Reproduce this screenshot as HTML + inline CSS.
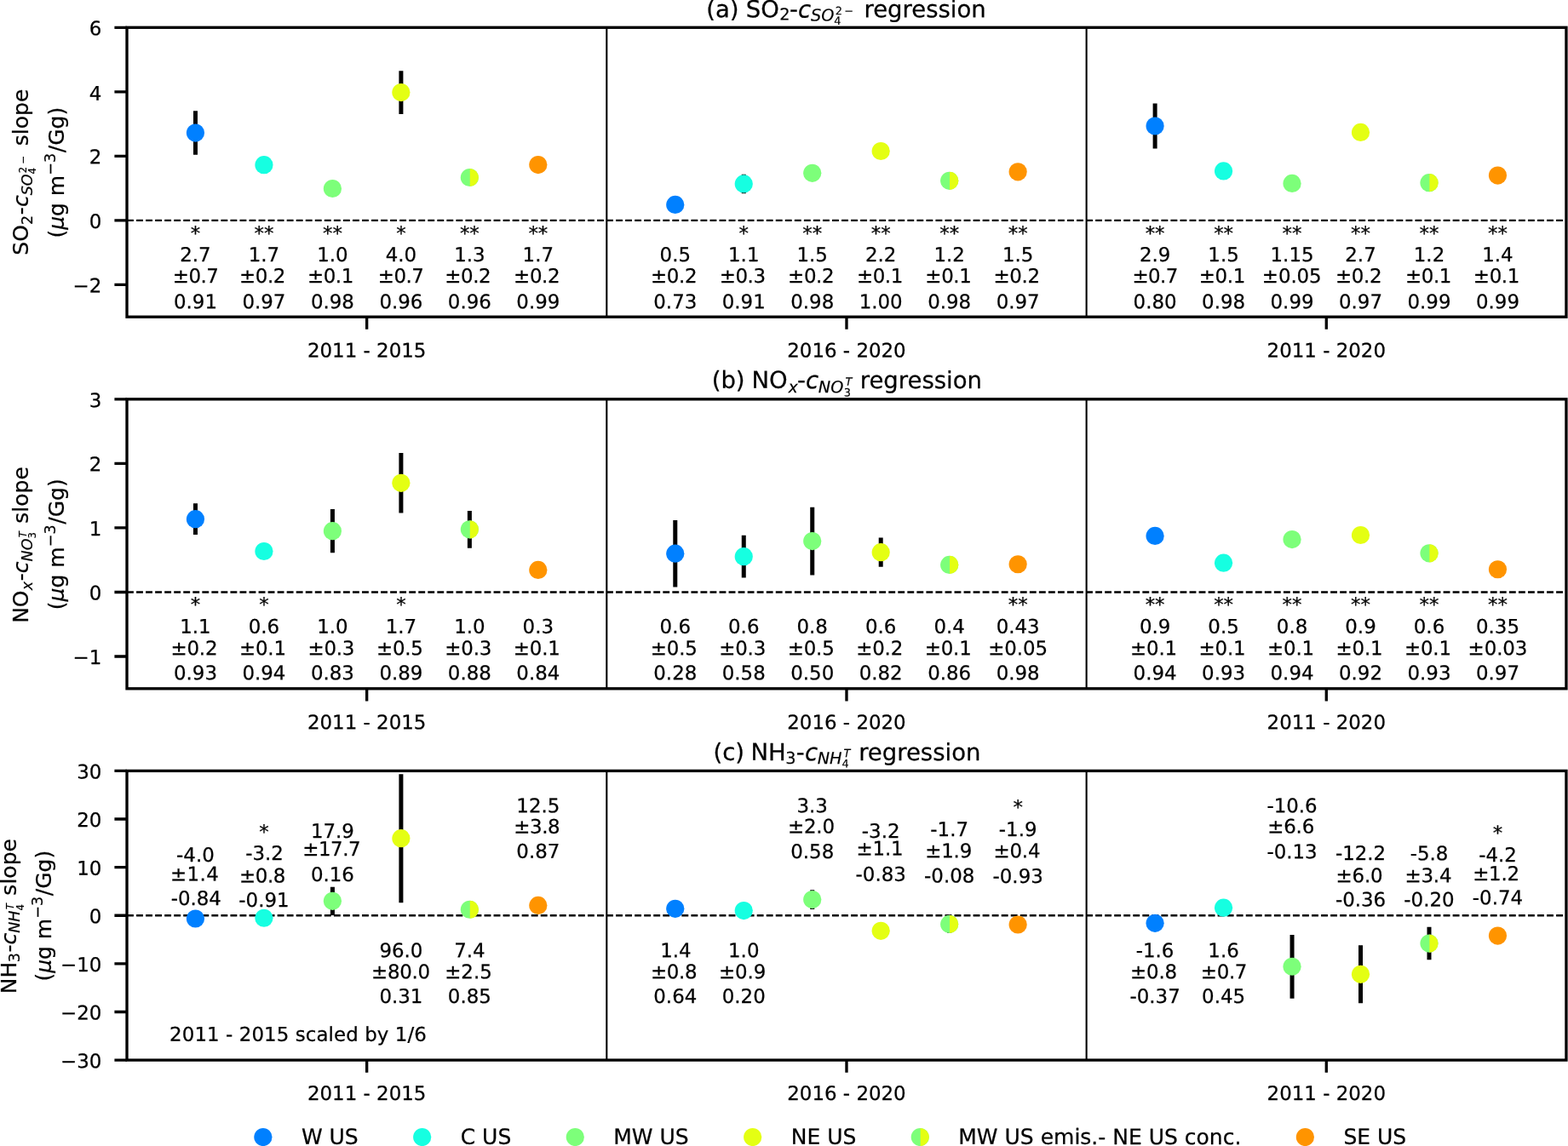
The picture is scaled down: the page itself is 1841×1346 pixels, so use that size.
<!DOCTYPE html>
<html lang="en">
<head>
<meta charset="utf-8">
<title>Emission-concentration regression slopes by region</title>
<style>
html,body{margin:0;padding:0;background:#fff;width:1841px;height:1346px}
svg{display:block}
svg text{font-family:"DejaVu Sans", "Liberation Sans", sans-serif;font-size:22.92px;fill:#000;stroke:#000;stroke-width:0.25px;stroke-linejoin:round;text-anchor:middle;white-space:pre}
svg .e text{text-anchor:end}
svg .lg text{text-anchor:start;font-size:25px}
</style>
</head>
<body>
<svg width="1841" height="1346" viewBox="0 0 1841 1346" role="img" aria-label="Regression slopes for SO2, NOx and NH3 by US region and period">
<rect width="1841" height="1346" fill="#fff"/>
<clipPath id="ca"><rect x="149" y="32.3" width="1689.95" height="339.9"/></clipPath><clipPath id="cb"><rect x="149" y="468.85" width="1689.95" height="339.95"/></clipPath><clipPath id="cc"><rect x="149" y="905.4" width="1689.95" height="339.7"/></clipPath>
<g>
<g clip-path="url(#ca)">
<path d="M149 258.9H1838.95" stroke="#000" stroke-width="2.3" stroke-dasharray="7.9 3.14" fill="none"/>
<path d="M712.32 32.3V372.2" stroke="#000" stroke-width="2.08" fill="none"/>
<path d="M1275.63 32.3V372.2" stroke="#000" stroke-width="2.08" fill="none"/>
<path d="M229.47 130.27V181.86M470.9 83.28V133.89M873.26 204.63V227.29M1356.11 121.54V174.42" stroke="#000" stroke-width="5" fill="none"/>
<circle cx="229.47" cy="156.06" r="10.6" fill="#0080ff"/>
<circle cx="309.95" cy="193.71" r="10.6" fill="#16ffe1"/>
<circle cx="390.42" cy="221.51" r="10.6" fill="#7dff7a"/>
<circle cx="470.9" cy="108.59" r="10.6" fill="#e4ff13"/>
<circle cx="551.37" cy="208.52" r="10.6" fill="#7dff7a"/>
<path d="M551.77 197.93A10.6 10.6 0 0 1 551.77 219.11Z" fill="#e4ff13"/>
<circle cx="631.84" cy="193.56" r="10.6" fill="#ff9400"/>
<circle cx="792.79" cy="240.47" r="10.6" fill="#0080ff"/>
<circle cx="873.26" cy="215.96" r="10.6" fill="#16ffe1"/>
<circle cx="953.74" cy="203.31" r="10.6" fill="#7dff7a"/>
<circle cx="1034.21" cy="177.51" r="10.6" fill="#e4ff13"/>
<circle cx="1114.69" cy="212.3" r="10.6" fill="#7dff7a"/>
<path d="M1115.09 201.7A10.6 10.6 0 0 1 1115.09 222.89Z" fill="#e4ff13"/>
<circle cx="1195.16" cy="201.87" r="10.6" fill="#ff9400"/>
<circle cx="1356.11" cy="147.98" r="10.6" fill="#0080ff"/>
<circle cx="1436.58" cy="200.89" r="10.6" fill="#16ffe1"/>
<circle cx="1517.05" cy="215.39" r="10.6" fill="#7dff7a"/>
<circle cx="1597.53" cy="155.42" r="10.6" fill="#e4ff13"/>
<circle cx="1678" cy="214.71" r="10.6" fill="#7dff7a"/>
<path d="M1678.4 204.12A10.6 10.6 0 0 1 1678.4 225.31Z" fill="#e4ff13"/>
<circle cx="1758.48" cy="206.03" r="10.6" fill="#ff9400"/>
</g>
<rect x="149" y="32.3" width="1689.95" height="339.9" fill="none" stroke="#000" stroke-width="3.33" stroke-linejoin="miter"/>
<path d="M149 32.3H134.42M149 107.83H134.42M149 183.37H134.42M149 258.9H134.42M149 334.43H134.42M430.66 372.2V386.78M993.98 372.2V386.78M1557.29 372.2V386.78" stroke="#000" stroke-width="3.33" fill="none"/>
<g class="e">
<text x="119.3" y="41.3" transform="rotate(0.03 119.3 41.3)">6</text>
<text x="119.3" y="117.73" transform="rotate(0.03 119.3 117.73)">4</text>
<text x="119.3" y="192.37" transform="rotate(0.03 119.3 192.37)">2</text>
<text x="119.3" y="267.9" transform="rotate(0.03 119.3 267.9)">0</text>
<text x="119.3" y="343.43" transform="rotate(0.03 119.3 343.43)">−2</text>
</g>
<text x="430.66" y="419.6" transform="rotate(0.03 430.66 419.6)">2011 - 2015</text>
<text x="993.98" y="419.6" transform="rotate(0.03 993.98 419.6)">2016 - 2020</text>
<text x="1557.29" y="419.6" transform="rotate(0.03 1557.29 419.6)">2011 - 2020</text>
<text x="229.47" y="282.1" transform="rotate(0.03 229.47 282.1)">*</text>
<text x="229.47" y="307" transform="rotate(0.03 229.47 307)">2.7</text>
<text x="229.77" y="332.1" transform="rotate(0.03 229.77 332.1)" textLength="54.05">±0.7</text>
<text x="229.47" y="362.2" transform="rotate(0.03 229.47 362.2)">0.91</text>
<text x="309.95" y="282.1" transform="rotate(0.03 309.95 282.1)">**</text>
<text x="309.95" y="307" transform="rotate(0.03 309.95 307)">1.7</text>
<text x="308.15" y="332.1" transform="rotate(0.03 308.15 332.1)" textLength="54.45">±0.2</text>
<text x="309.95" y="362.2" transform="rotate(0.03 309.95 362.2)">0.97</text>
<text x="390.42" y="282.1" transform="rotate(0.03 390.42 282.1)">**</text>
<text x="390.42" y="307" transform="rotate(0.03 390.42 307)">1.0</text>
<text x="388.12" y="332.1" transform="rotate(0.03 388.12 332.1)" textLength="54.45">±0.1</text>
<text x="390.42" y="362.2" transform="rotate(0.03 390.42 362.2)">0.98</text>
<text x="470.9" y="282.1" transform="rotate(0.03 470.9 282.1)">*</text>
<text x="470.9" y="307" transform="rotate(0.03 470.9 307)">4.0</text>
<text x="470.8" y="332.1" transform="rotate(0.03 470.8 332.1)" textLength="54.05">±0.7</text>
<text x="470.9" y="362.2" transform="rotate(0.03 470.9 362.2)">0.96</text>
<text x="551.37" y="282.1" transform="rotate(0.03 551.37 282.1)">**</text>
<text x="551.37" y="307" transform="rotate(0.03 551.37 307)">1.3</text>
<text x="549.37" y="332.1" transform="rotate(0.03 549.37 332.1)" textLength="54.45">±0.2</text>
<text x="551.37" y="362.2" transform="rotate(0.03 551.37 362.2)">0.96</text>
<text x="631.84" y="282.1" transform="rotate(0.03 631.84 282.1)">**</text>
<text x="631.84" y="307" transform="rotate(0.03 631.84 307)">1.7</text>
<text x="630.34" y="332.1" transform="rotate(0.03 630.34 332.1)" textLength="54.45">±0.2</text>
<text x="631.84" y="362.2" transform="rotate(0.03 631.84 362.2)">0.99</text>
<text x="792.79" y="307" transform="rotate(0.03 792.79 307)">0.5</text>
<text x="791.29" y="332.1" transform="rotate(0.03 791.29 332.1)" textLength="54.45">±0.2</text>
<text x="792.79" y="362.2" transform="rotate(0.03 792.79 362.2)">0.73</text>
<text x="873.26" y="282.1" transform="rotate(0.03 873.26 282.1)">*</text>
<text x="873.26" y="307" transform="rotate(0.03 873.26 307)">1.1</text>
<text x="871.86" y="332.1" transform="rotate(0.03 871.86 332.1)" textLength="54.45">±0.3</text>
<text x="873.26" y="362.2" transform="rotate(0.03 873.26 362.2)">0.91</text>
<text x="953.74" y="282.1" transform="rotate(0.03 953.74 282.1)">**</text>
<text x="953.74" y="307" transform="rotate(0.03 953.74 307)">1.5</text>
<text x="952.34" y="332.1" transform="rotate(0.03 952.34 332.1)" textLength="54.45">±0.2</text>
<text x="953.74" y="362.2" transform="rotate(0.03 953.74 362.2)">0.98</text>
<text x="1034.21" y="282.1" transform="rotate(0.03 1034.21 282.1)">**</text>
<text x="1034.21" y="307" transform="rotate(0.03 1034.21 307)">2.2</text>
<text x="1033.11" y="332.1" transform="rotate(0.03 1033.11 332.1)" textLength="54.45">±0.1</text>
<text x="1034.21" y="362.2" transform="rotate(0.03 1034.21 362.2)">1.00</text>
<text x="1114.69" y="282.1" transform="rotate(0.03 1114.69 282.1)">**</text>
<text x="1114.69" y="307" transform="rotate(0.03 1114.69 307)">1.2</text>
<text x="1113.59" y="332.1" transform="rotate(0.03 1113.59 332.1)" textLength="54.45">±0.1</text>
<text x="1114.69" y="362.2" transform="rotate(0.03 1114.69 362.2)">0.98</text>
<text x="1195.16" y="282.1" transform="rotate(0.03 1195.16 282.1)">**</text>
<text x="1195.16" y="307" transform="rotate(0.03 1195.16 307)">1.5</text>
<text x="1193.76" y="332.1" transform="rotate(0.03 1193.76 332.1)" textLength="54.45">±0.2</text>
<text x="1195.16" y="362.2" transform="rotate(0.03 1195.16 362.2)">0.97</text>
<text x="1356.11" y="282.1" transform="rotate(0.03 1356.11 282.1)">**</text>
<text x="1356.11" y="307" transform="rotate(0.03 1356.11 307)">2.9</text>
<text x="1356.41" y="332.1" transform="rotate(0.03 1356.41 332.1)" textLength="54.05">±0.7</text>
<text x="1356.11" y="362.2" transform="rotate(0.03 1356.11 362.2)">0.80</text>
<text x="1436.58" y="282.1" transform="rotate(0.03 1436.58 282.1)">**</text>
<text x="1436.58" y="307" transform="rotate(0.03 1436.58 307)">1.5</text>
<text x="1434.98" y="332.1" transform="rotate(0.03 1434.98 332.1)" textLength="54.45">±0.1</text>
<text x="1436.58" y="362.2" transform="rotate(0.03 1436.58 362.2)">0.98</text>
<text x="1517.05" y="282.1" transform="rotate(0.03 1517.05 282.1)">**</text>
<text x="1517.05" y="307" transform="rotate(0.03 1517.05 307)">1.15</text>
<text x="1516.75" y="332.1" transform="rotate(0.03 1516.75 332.1)" textLength="69.83">±0.05</text>
<text x="1517.05" y="362.2" transform="rotate(0.03 1517.05 362.2)">0.99</text>
<text x="1597.53" y="282.1" transform="rotate(0.03 1597.53 282.1)">**</text>
<text x="1597.53" y="307" transform="rotate(0.03 1597.53 307)">2.7</text>
<text x="1595.23" y="332.1" transform="rotate(0.03 1595.23 332.1)" textLength="54.45">±0.2</text>
<text x="1597.53" y="362.2" transform="rotate(0.03 1597.53 362.2)">0.97</text>
<text x="1678" y="282.1" transform="rotate(0.03 1678 282.1)">**</text>
<text x="1678" y="307" transform="rotate(0.03 1678 307)">1.2</text>
<text x="1677.2" y="332.1" transform="rotate(0.03 1677.2 332.1)" textLength="54.45">±0.1</text>
<text x="1678" y="362.2" transform="rotate(0.03 1678 362.2)">0.99</text>
<text x="1758.48" y="282.1" transform="rotate(0.03 1758.48 282.1)">**</text>
<text x="1758.48" y="307" transform="rotate(0.03 1758.48 307)">1.4</text>
<text x="1757.08" y="332.1" transform="rotate(0.03 1757.08 332.1)" textLength="54.45">±0.1</text>
<text x="1758.48" y="362.2" transform="rotate(0.03 1758.48 362.2)">0.99</text>
<text transform="rotate(0.03 827.53 20.2)" style="text-anchor:start;font-size:27.5px"><tspan x="829.23" y="20.2">(a)</tspan><tspan x="875.78" y="20.2">SO</tspan><tspan x="915.15" y="23.49" style="font-size:19.25px;stroke-width:0.2px;">2</tspan><tspan x="926.96" y="20.2">-</tspan><tspan x="937.09" y="20.5" style="font-style:oblique;">c</tspan><tspan x="952.01" y="24.39" style="font-size:19.25px;stroke-width:0.2px;font-style:oblique;">SO</tspan><tspan x="979.38" y="28.8" style="font-size:12.92px;stroke-width:0.15px;">4</tspan><tspan x="980.79" y="17.09" style="font-size:12.92px;stroke-width:0.15px;">2</tspan><tspan x="991.26" y="17.09" style="font-size:12.92px;stroke-width:0.15px;">−</tspan><tspan x="1014.45" y="20.2">regression</tspan></text>
<text transform="translate(33.4 202.25) rotate(-90)" style="text-anchor:start;font-size:25px"><tspan x="-97.49" y="0">SO</tspan><tspan x="-61.7" y="4.17" style="font-size:17.5px;stroke-width:0.2px;">2</tspan><tspan x="-49.88" y="0">-</tspan><tspan x="-40.85" y="0" style="font-style:oblique;">c</tspan><tspan x="-27.1" y="4.17" style="font-size:17.5px;stroke-width:0.2px;font-style:oblique;">SO</tspan><tspan x="-2.22" y="9.05" style="font-size:11.75px;stroke-width:0.15px;">4</tspan><tspan x="-0.94" y="-2.65" style="font-size:11.75px;stroke-width:0.15px;">2</tspan><tspan x="9.7" y="-2.65" style="font-size:11.75px;stroke-width:0.15px;">−</tspan><tspan x="31.02" y="0">slope</tspan></text><text transform="translate(75 202.25) rotate(-90)" style="text-anchor:start;font-size:25px"><tspan x="-77.35" y="0">(</tspan><tspan x="-67.62" y="0" style="font-style:oblique;">μ</tspan><tspan x="-51.74" y="0">g m</tspan><tspan x="-3.42" y="-9.61" style="font-size:17.5px;stroke-width:0.2px;">−</tspan><tspan x="11.22" y="-9.61" style="font-size:17.5px;stroke-width:0.2px;">3</tspan><tspan x="23.02" y="0">/Gg)</tspan></text>
</g>
<g>
<g clip-path="url(#cb)">
<path d="M149 695.48H1838.95" stroke="#000" stroke-width="2.3" stroke-dasharray="7.9 3.14" fill="none"/>
<path d="M712.32 468.85V808.8" stroke="#000" stroke-width="2.08" fill="none"/>
<path d="M1275.63 468.85V808.8" stroke="#000" stroke-width="2.08" fill="none"/>
<path d="M229.47 591.31V628.02M390.42 597.96V649.33M470.9 532.08V602.49M551.37 599.92V643.74M792.79 610.9V689.46M873.26 628.7V678.56M953.74 595.69V675.46M1034.21 631.57V665.72" stroke="#000" stroke-width="5" fill="none"/>
<circle cx="229.47" cy="609.66" r="10.6" fill="#0080ff"/>
<circle cx="309.95" cy="647.51" r="10.6" fill="#16ffe1"/>
<circle cx="390.42" cy="623.64" r="10.6" fill="#7dff7a"/>
<circle cx="470.9" cy="567.28" r="10.6" fill="#e4ff13"/>
<circle cx="551.37" cy="621.83" r="10.6" fill="#7dff7a"/>
<path d="M551.77 611.24A10.6 10.6 0 0 1 551.77 632.42Z" fill="#e4ff13"/>
<circle cx="631.84" cy="669.42" r="10.6" fill="#ff9400"/>
<circle cx="792.79" cy="650.18" r="10.6" fill="#0080ff"/>
<circle cx="873.26" cy="653.63" r="10.6" fill="#16ffe1"/>
<circle cx="953.74" cy="635.58" r="10.6" fill="#7dff7a"/>
<circle cx="1034.21" cy="648.65" r="10.6" fill="#e4ff13"/>
<circle cx="1114.69" cy="663.38" r="10.6" fill="#7dff7a"/>
<path d="M1115.09 652.78A10.6 10.6 0 0 1 1115.09 673.97Z" fill="#e4ff13"/>
<circle cx="1195.16" cy="662.73" r="10.6" fill="#ff9400"/>
<circle cx="1356.11" cy="629.46" r="10.6" fill="#0080ff"/>
<circle cx="1436.58" cy="661.19" r="10.6" fill="#16ffe1"/>
<circle cx="1517.05" cy="633.54" r="10.6" fill="#7dff7a"/>
<circle cx="1597.53" cy="628.48" r="10.6" fill="#e4ff13"/>
<circle cx="1678" cy="649.85" r="10.6" fill="#7dff7a"/>
<path d="M1678.4 639.26A10.6 10.6 0 0 1 1678.4 660.45Z" fill="#e4ff13"/>
<circle cx="1758.48" cy="668.74" r="10.6" fill="#ff9400"/>
</g>
<rect x="149" y="468.85" width="1689.95" height="339.95" fill="none" stroke="#000" stroke-width="3.33" stroke-linejoin="miter"/>
<path d="M149 468.85H134.42M149 544.39H134.42M149 619.94H134.42M149 695.48H134.42M149 771.03H134.42M430.66 808.8V823.38M993.98 808.8V823.38M1557.29 808.8V823.38" stroke="#000" stroke-width="3.33" fill="none"/>
<g class="e">
<text x="119.3" y="478.35" transform="rotate(0.03 119.3 478.35)">3</text>
<text x="119.3" y="553.39" transform="rotate(0.03 119.3 553.39)">2</text>
<text x="119.3" y="628.94" transform="rotate(0.03 119.3 628.94)">1</text>
<text x="119.3" y="704.48" transform="rotate(0.03 119.3 704.48)">0</text>
<text x="119.3" y="780.03" transform="rotate(0.03 119.3 780.03)">−1</text>
</g>
<text x="430.66" y="856.2" transform="rotate(0.03 430.66 856.2)">2011 - 2015</text>
<text x="993.98" y="856.2" transform="rotate(0.03 993.98 856.2)">2016 - 2020</text>
<text x="1557.29" y="856.2" transform="rotate(0.03 1557.29 856.2)">2011 - 2020</text>
<text x="229.47" y="718.05" transform="rotate(0.03 229.47 718.05)">*</text>
<text x="229.47" y="743.85" transform="rotate(0.03 229.47 743.85)">1.1</text>
<text x="227.97" y="769.25" transform="rotate(0.03 227.97 769.25)" textLength="55.05">±0.2</text>
<text x="229.47" y="798.35" transform="rotate(0.03 229.47 798.35)">0.93</text>
<text x="309.95" y="718.05" transform="rotate(0.03 309.95 718.05)">*</text>
<text x="309.95" y="743.85" transform="rotate(0.03 309.95 743.85)">0.6</text>
<text x="308.45" y="769.25" transform="rotate(0.03 308.45 769.25)" textLength="55.05">±0.1</text>
<text x="309.95" y="798.35" transform="rotate(0.03 309.95 798.35)">0.94</text>
<text x="390.42" y="743.85" transform="rotate(0.03 390.42 743.85)">1.0</text>
<text x="388.92" y="769.25" transform="rotate(0.03 388.92 769.25)" textLength="55.05">±0.3</text>
<text x="390.42" y="798.35" transform="rotate(0.03 390.42 798.35)">0.83</text>
<text x="470.9" y="718.05" transform="rotate(0.03 470.9 718.05)">*</text>
<text x="470.9" y="743.85" transform="rotate(0.03 470.9 743.85)">1.7</text>
<text x="469.4" y="769.25" transform="rotate(0.03 469.4 769.25)" textLength="55.05">±0.5</text>
<text x="470.9" y="798.35" transform="rotate(0.03 470.9 798.35)">0.89</text>
<text x="551.37" y="743.85" transform="rotate(0.03 551.37 743.85)">1.0</text>
<text x="549.87" y="769.25" transform="rotate(0.03 549.87 769.25)" textLength="55.05">±0.3</text>
<text x="551.37" y="798.35" transform="rotate(0.03 551.37 798.35)">0.88</text>
<text x="631.84" y="743.85" transform="rotate(0.03 631.84 743.85)">0.3</text>
<text x="630.34" y="769.25" transform="rotate(0.03 630.34 769.25)" textLength="55.05">±0.1</text>
<text x="631.84" y="798.35" transform="rotate(0.03 631.84 798.35)">0.84</text>
<text x="792.79" y="743.85" transform="rotate(0.03 792.79 743.85)">0.6</text>
<text x="791.29" y="769.25" transform="rotate(0.03 791.29 769.25)" textLength="55.05">±0.5</text>
<text x="792.79" y="798.35" transform="rotate(0.03 792.79 798.35)">0.28</text>
<text x="873.26" y="743.85" transform="rotate(0.03 873.26 743.85)">0.6</text>
<text x="871.76" y="769.25" transform="rotate(0.03 871.76 769.25)" textLength="55.05">±0.3</text>
<text x="873.26" y="798.35" transform="rotate(0.03 873.26 798.35)">0.58</text>
<text x="953.74" y="743.85" transform="rotate(0.03 953.74 743.85)">0.8</text>
<text x="952.24" y="769.25" transform="rotate(0.03 952.24 769.25)" textLength="55.05">±0.5</text>
<text x="953.74" y="798.35" transform="rotate(0.03 953.74 798.35)">0.50</text>
<text x="1034.21" y="743.85" transform="rotate(0.03 1034.21 743.85)">0.6</text>
<text x="1032.71" y="769.25" transform="rotate(0.03 1032.71 769.25)" textLength="55.05">±0.2</text>
<text x="1034.21" y="798.35" transform="rotate(0.03 1034.21 798.35)">0.82</text>
<text x="1114.69" y="743.85" transform="rotate(0.03 1114.69 743.85)">0.4</text>
<text x="1113.19" y="769.25" transform="rotate(0.03 1113.19 769.25)" textLength="55.05">±0.1</text>
<text x="1114.69" y="798.35" transform="rotate(0.03 1114.69 798.35)">0.86</text>
<text x="1195.16" y="718.05" transform="rotate(0.03 1195.16 718.05)">**</text>
<text x="1195.16" y="743.85" transform="rotate(0.03 1195.16 743.85)">0.43</text>
<text x="1195.16" y="769.25" transform="rotate(0.03 1195.16 769.25)" textLength="69.83">±0.05</text>
<text x="1195.16" y="798.35" transform="rotate(0.03 1195.16 798.35)">0.98</text>
<text x="1356.11" y="718.05" transform="rotate(0.03 1356.11 718.05)">**</text>
<text x="1356.11" y="743.85" transform="rotate(0.03 1356.11 743.85)">0.9</text>
<text x="1354.61" y="769.25" transform="rotate(0.03 1354.61 769.25)" textLength="55.05">±0.1</text>
<text x="1356.11" y="798.35" transform="rotate(0.03 1356.11 798.35)">0.94</text>
<text x="1436.58" y="718.05" transform="rotate(0.03 1436.58 718.05)">**</text>
<text x="1436.58" y="743.85" transform="rotate(0.03 1436.58 743.85)">0.5</text>
<text x="1435.08" y="769.25" transform="rotate(0.03 1435.08 769.25)" textLength="55.05">±0.1</text>
<text x="1436.58" y="798.35" transform="rotate(0.03 1436.58 798.35)">0.93</text>
<text x="1517.05" y="718.05" transform="rotate(0.03 1517.05 718.05)">**</text>
<text x="1517.05" y="743.85" transform="rotate(0.03 1517.05 743.85)">0.8</text>
<text x="1515.55" y="769.25" transform="rotate(0.03 1515.55 769.25)" textLength="55.05">±0.1</text>
<text x="1517.05" y="798.35" transform="rotate(0.03 1517.05 798.35)">0.94</text>
<text x="1597.53" y="718.05" transform="rotate(0.03 1597.53 718.05)">**</text>
<text x="1597.53" y="743.85" transform="rotate(0.03 1597.53 743.85)">0.9</text>
<text x="1596.03" y="769.25" transform="rotate(0.03 1596.03 769.25)" textLength="55.05">±0.1</text>
<text x="1597.53" y="798.35" transform="rotate(0.03 1597.53 798.35)">0.92</text>
<text x="1678" y="718.05" transform="rotate(0.03 1678 718.05)">**</text>
<text x="1678" y="743.85" transform="rotate(0.03 1678 743.85)">0.6</text>
<text x="1676.5" y="769.25" transform="rotate(0.03 1676.5 769.25)" textLength="55.05">±0.1</text>
<text x="1678" y="798.35" transform="rotate(0.03 1678 798.35)">0.93</text>
<text x="1758.48" y="718.05" transform="rotate(0.03 1758.48 718.05)">**</text>
<text x="1758.48" y="743.85" transform="rotate(0.03 1758.48 743.85)">0.35</text>
<text x="1758.48" y="769.25" transform="rotate(0.03 1758.48 769.25)" textLength="69.83">±0.03</text>
<text x="1758.48" y="798.35" transform="rotate(0.03 1758.48 798.35)">0.97</text>
<text transform="rotate(0.03 833.48 455.8)" style="text-anchor:start;font-size:27.5px"><tspan x="835.68" y="455.8">(b)</tspan><tspan x="882.43" y="455.8">NO</tspan><tspan x="925.62" y="461.09" style="font-size:19.25px;stroke-width:0.2px;font-style:oblique;">x</tspan><tspan x="935.88" y="455.8">-</tspan><tspan x="946" y="456" style="font-style:oblique;">c</tspan><tspan x="960.82" y="461.09" style="font-size:19.25px;stroke-width:0.2px;font-style:oblique;">NO</tspan><tspan x="990.66" y="465.45" style="font-size:12.92px;stroke-width:0.15px;">3</tspan><tspan x="992.38" y="452.59" style="font-size:12.92px;stroke-width:0.15px;font-style:oblique;">T</tspan><tspan x="1009.76" y="455.8">regression</tspan></text>
<text transform="translate(33.4 638.8) rotate(-90)" style="text-anchor:start;font-size:25px"><tspan x="-93.06" y="0">NO</tspan><tspan x="-54.44" y="4.17" style="font-size:17.5px;stroke-width:0.2px;font-style:oblique;">x</tspan><tspan x="-43.39" y="0">-</tspan><tspan x="-34.37" y="0" style="font-style:oblique;">c</tspan><tspan x="-20.62" y="4.17" style="font-size:17.5px;stroke-width:0.2px;font-style:oblique;">NO</tspan><tspan x="6.24" y="9.05" style="font-size:11.75px;stroke-width:0.15px;">3</tspan><tspan x="7.52" y="-2.65" style="font-size:11.75px;stroke-width:0.15px;font-style:oblique;">T</tspan><tspan x="24.14" y="0">slope</tspan></text><text transform="translate(75 638.8) rotate(-90)" style="text-anchor:start;font-size:25px"><tspan x="-77.35" y="0">(</tspan><tspan x="-67.62" y="0" style="font-style:oblique;">μ</tspan><tspan x="-51.74" y="0">g m</tspan><tspan x="-3.42" y="-9.61" style="font-size:17.5px;stroke-width:0.2px;">−</tspan><tspan x="11.22" y="-9.61" style="font-size:17.5px;stroke-width:0.2px;">3</tspan><tspan x="23.02" y="0">/Gg)</tspan></text>
</g>
<g>
<g clip-path="url(#cc)">
<path d="M149 1075.25H1838.95" stroke="#000" stroke-width="2.3" stroke-dasharray="7.9 3.14" fill="none"/>
<path d="M712.32 905.4V1245.1" stroke="#000" stroke-width="2.08" fill="none"/>
<path d="M1275.63 905.4V1245.1" stroke="#000" stroke-width="2.08" fill="none"/>
<path d="M390.42 1041.66V1075.06M470.9 909.17V1060.15M953.74 1045.24V1067.89M1114.69 1075.25V1095.63M1517.05 1097.9V1172.63M1597.53 1110.35V1178.29M1678 1088.84V1127.34" stroke="#000" stroke-width="5" fill="none"/>
<circle cx="229.47" cy="1079.02" r="10.6" fill="#0080ff"/>
<circle cx="309.95" cy="1078.27" r="10.6" fill="#16ffe1"/>
<circle cx="390.42" cy="1058.36" r="10.6" fill="#7dff7a"/>
<circle cx="470.9" cy="984.66" r="10.6" fill="#e4ff13"/>
<circle cx="551.37" cy="1068.27" r="10.6" fill="#7dff7a"/>
<path d="M551.77 1057.67A10.6 10.6 0 0 1 551.77 1078.86Z" fill="#e4ff13"/>
<circle cx="631.84" cy="1063.45" r="10.6" fill="#ff9400"/>
<circle cx="792.79" cy="1067.32" r="10.6" fill="#0080ff"/>
<circle cx="873.26" cy="1069.59" r="10.6" fill="#16ffe1"/>
<circle cx="953.74" cy="1056.57" r="10.6" fill="#7dff7a"/>
<circle cx="1034.21" cy="1093.37" r="10.6" fill="#e4ff13"/>
<circle cx="1114.69" cy="1085.44" r="10.6" fill="#7dff7a"/>
<path d="M1115.09 1074.85A10.6 10.6 0 0 1 1115.09 1096.03Z" fill="#e4ff13"/>
<circle cx="1195.16" cy="1086.01" r="10.6" fill="#ff9400"/>
<circle cx="1356.11" cy="1084.31" r="10.6" fill="#0080ff"/>
<circle cx="1436.58" cy="1066.19" r="10.6" fill="#16ffe1"/>
<circle cx="1517.05" cy="1135.26" r="10.6" fill="#7dff7a"/>
<circle cx="1597.53" cy="1144.32" r="10.6" fill="#e4ff13"/>
<circle cx="1678" cy="1108.09" r="10.6" fill="#7dff7a"/>
<path d="M1678.4 1097.5A10.6 10.6 0 0 1 1678.4 1118.68Z" fill="#e4ff13"/>
<circle cx="1758.48" cy="1099.03" r="10.6" fill="#ff9400"/>
</g>
<rect x="149" y="905.4" width="1689.95" height="339.7" fill="none" stroke="#000" stroke-width="3.33" stroke-linejoin="miter"/>
<path d="M149 905.4H134.42M149 962.02H134.42M149 1018.63H134.42M149 1075.25H134.42M149 1131.87H134.42M149 1188.48H134.42M149 1245.1H134.42M430.66 1245.1V1259.68M993.98 1245.1V1259.68M1557.29 1245.1V1259.68" stroke="#000" stroke-width="3.33" fill="none"/>
<g class="e">
<text x="119.3" y="914.5" transform="rotate(0.03 119.3 914.5)">30</text>
<text x="119.3" y="971.12" transform="rotate(0.03 119.3 971.12)">20</text>
<text x="119.3" y="1027.73" transform="rotate(0.03 119.3 1027.73)">10</text>
<text x="119.3" y="1084.35" transform="rotate(0.03 119.3 1084.35)">0</text>
<text x="119.3" y="1140.97" transform="rotate(0.03 119.3 1140.97)">−10</text>
<text x="119.3" y="1197.58" transform="rotate(0.03 119.3 1197.58)">−20</text>
<text x="119.3" y="1254.2" transform="rotate(0.03 119.3 1254.2)">−30</text>
</g>
<text x="430.66" y="1292.1" transform="rotate(0.03 430.66 1292.1)">2011 - 2015</text>
<text x="993.98" y="1292.1" transform="rotate(0.03 993.98 1292.1)">2016 - 2020</text>
<text x="1557.29" y="1292.1" transform="rotate(0.03 1557.29 1292.1)">2011 - 2020</text>
<text x="229.47" y="1012" transform="rotate(0.03 229.47 1012)">-4.0</text>
<text x="228.37" y="1034.5" transform="rotate(0.03 228.37 1034.5)" textLength="56.75">±1.4</text>
<text x="230.27" y="1063.1" transform="rotate(0.03 230.27 1063.1)">-0.84</text>
<text x="309.95" y="985.1" transform="rotate(0.03 309.95 985.1)">*</text>
<text x="310.55" y="1010.1" transform="rotate(0.03 310.55 1010.1)">-3.2</text>
<text x="308.15" y="1036.4" transform="rotate(0.03 308.15 1036.4)" textLength="54.35">±0.8</text>
<text x="309.95" y="1065" transform="rotate(0.03 309.95 1065)">-0.91</text>
<text x="390.42" y="984" transform="rotate(0.03 390.42 984)">17.9</text>
<text x="389.42" y="1005.1" transform="rotate(0.03 389.42 1005.1)" textLength="68.13">±17.7</text>
<text x="390.42" y="1034.9" transform="rotate(0.03 390.42 1034.9)">0.16</text>
<text x="470.9" y="1124.2" transform="rotate(0.03 470.9 1124.2)">96.0</text>
<text x="470.6" y="1149.3" transform="rotate(0.03 470.6 1149.3)" textLength="69.13">±80.0</text>
<text x="470.9" y="1177.9" transform="rotate(0.03 470.9 1177.9)">0.31</text>
<text x="551.37" y="1124.2" transform="rotate(0.03 551.37 1124.2)">7.4</text>
<text x="549.97" y="1149.3" transform="rotate(0.03 549.97 1149.3)">±2.5</text>
<text x="551.37" y="1177.9" transform="rotate(0.03 551.37 1177.9)">0.85</text>
<text x="631.84" y="954.2" transform="rotate(0.03 631.84 954.2)">12.5</text>
<text x="630.44" y="978.65" transform="rotate(0.03 630.44 978.65)" textLength="54.25">±3.8</text>
<text x="631.84" y="1007.8" transform="rotate(0.03 631.84 1007.8)">0.87</text>
<text x="793.49" y="1124.2" transform="rotate(0.03 793.49 1124.2)">1.4</text>
<text x="791.29" y="1149.3" transform="rotate(0.03 791.29 1149.3)" textLength="54.65">±0.8</text>
<text x="792.79" y="1177.9" transform="rotate(0.03 792.79 1177.9)">0.64</text>
<text x="873.26" y="1124.2" transform="rotate(0.03 873.26 1124.2)">1.0</text>
<text x="871.66" y="1149.3" transform="rotate(0.03 871.66 1149.3)" textLength="55.25">±0.9</text>
<text x="873.26" y="1177.9" transform="rotate(0.03 873.26 1177.9)">0.20</text>
<text x="953.74" y="954.2" transform="rotate(0.03 953.74 954.2)">3.3</text>
<text x="952.44" y="978.4" transform="rotate(0.03 952.44 978.4)" textLength="55.05">±2.0</text>
<text x="953.74" y="1008" transform="rotate(0.03 953.74 1008)">0.58</text>
<text x="1034.21" y="984.1" transform="rotate(0.03 1034.21 984.1)">-3.2</text>
<text x="1033.11" y="1004.5" transform="rotate(0.03 1033.11 1004.5)" textLength="55.05">±1.1</text>
<text x="1034.21" y="1034.7" transform="rotate(0.03 1034.21 1034.7)">-0.83</text>
<text x="1114.69" y="982" transform="rotate(0.03 1114.69 982)">-1.7</text>
<text x="1113.69" y="1007.3" transform="rotate(0.03 1113.69 1007.3)" textLength="55.05">±1.9</text>
<text x="1114.69" y="1036.6" transform="rotate(0.03 1114.69 1036.6)">-0.08</text>
<text x="1195.16" y="956.1" transform="rotate(0.03 1195.16 956.1)">*</text>
<text x="1195.16" y="982" transform="rotate(0.03 1195.16 982)">-1.9</text>
<text x="1193.96" y="1007.3" transform="rotate(0.03 1193.96 1007.3)" textLength="55.05">±0.4</text>
<text x="1195.16" y="1036.9" transform="rotate(0.03 1195.16 1036.9)">-0.93</text>
<text x="1356.11" y="1124.2" transform="rotate(0.03 1356.11 1124.2)">-1.6</text>
<text x="1354.61" y="1149.3" transform="rotate(0.03 1354.61 1149.3)" textLength="55.05">±0.8</text>
<text x="1356.11" y="1177.9" transform="rotate(0.03 1356.11 1177.9)">-0.37</text>
<text x="1436.58" y="1124.2" transform="rotate(0.03 1436.58 1124.2)">1.6</text>
<text x="1437.08" y="1149.3" transform="rotate(0.03 1437.08 1149.3)" textLength="54.65">±0.7</text>
<text x="1436.58" y="1177.9" transform="rotate(0.03 1436.58 1177.9)">0.45</text>
<text x="1517.05" y="954.2" transform="rotate(0.03 1517.05 954.2)">-10.6</text>
<text x="1515.75" y="978.4" transform="rotate(0.03 1515.75 978.4)" textLength="55.05">±6.6</text>
<text x="1517.05" y="1008.2" transform="rotate(0.03 1517.05 1008.2)">-0.13</text>
<text x="1597.53" y="1010" transform="rotate(0.03 1597.53 1010)">-12.2</text>
<text x="1596.03" y="1036.3" transform="rotate(0.03 1596.03 1036.3)" textLength="55.05">±6.0</text>
<text x="1597.53" y="1064.6" transform="rotate(0.03 1597.53 1064.6)">-0.36</text>
<text x="1678" y="1010.2" transform="rotate(0.03 1678 1010.2)">-5.8</text>
<text x="1677" y="1036.3" transform="rotate(0.03 1677 1036.3)" textLength="55.05">±3.4</text>
<text x="1678" y="1064.6" transform="rotate(0.03 1678 1064.6)">-0.20</text>
<text x="1758.48" y="986.3" transform="rotate(0.03 1758.48 986.3)">*</text>
<text x="1758.48" y="1012" transform="rotate(0.03 1758.48 1012)">-4.2</text>
<text x="1756.58" y="1034.1" transform="rotate(0.03 1756.58 1034.1)" textLength="54.85">±1.2</text>
<text x="1758.48" y="1062.2" transform="rotate(0.03 1758.48 1062.2)">-0.74</text>
<text x="199.1" y="1222.7" transform="rotate(0.03 199.1 1222.7)" textLength="301.7" style="text-anchor:start">2011 - 2015 scaled by 1/6</text>
<text transform="rotate(0.03 835.53 892.85)" style="text-anchor:start;font-size:27.5px"><tspan x="837.43" y="892.85">(c)</tspan><tspan x="881.55" y="892.85">NH</tspan><tspan x="922.37" y="896.99" style="font-size:19.25px;stroke-width:0.2px;">3</tspan><tspan x="934.78" y="892.85">-</tspan><tspan x="944.9" y="892.85" style="font-style:oblique;">c</tspan><tspan x="959.72" y="897.09" style="font-size:19.25px;stroke-width:0.2px;font-style:oblique;">NH</tspan><tspan x="988.6" y="901.45" style="font-size:12.92px;stroke-width:0.15px;">4</tspan><tspan x="990.57" y="889.29" style="font-size:12.92px;stroke-width:0.15px;font-style:oblique;">T</tspan><tspan x="1008.15" y="892.85">regression</tspan></text>
<text transform="translate(19.1 1075.25) rotate(-90)" style="text-anchor:start;font-size:25px"><tspan x="-91.91" y="0">NH</tspan><tspan x="-55.07" y="4.17" style="font-size:17.5px;stroke-width:0.2px;">3</tspan><tspan x="-43.24" y="0">-</tspan><tspan x="-34.23" y="0" style="font-style:oblique;">c</tspan><tspan x="-20.48" y="4.17" style="font-size:17.5px;stroke-width:0.2px;font-style:oblique;">NH</tspan><tspan x="5.77" y="9.05" style="font-size:11.75px;stroke-width:0.15px;">4</tspan><tspan x="7.02" y="-2.65" style="font-size:11.75px;stroke-width:0.15px;font-style:oblique;">T</tspan><tspan x="23.64" y="0">slope</tspan></text><text transform="translate(59.8 1075.25) rotate(-90)" style="text-anchor:start;font-size:25px"><tspan x="-77.35" y="0">(</tspan><tspan x="-67.62" y="0" style="font-style:oblique;">μ</tspan><tspan x="-51.74" y="0">g m</tspan><tspan x="-3.42" y="-9.61" style="font-size:17.5px;stroke-width:0.2px;">−</tspan><tspan x="11.22" y="-9.61" style="font-size:17.5px;stroke-width:0.2px;">3</tspan><tspan x="23.02" y="0">/Gg)</tspan></text>
</g>
<g class="lg">
<circle cx="308.9" cy="1335.5" r="10.6" fill="#0080ff"/>
<text x="353.9" y="1343.8" transform="rotate(0.03 353.9 1343.8)">W US</text>
<circle cx="495.7" cy="1335.5" r="10.6" fill="#16ffe1"/>
<text x="540.7" y="1343.8" transform="rotate(0.03 540.7 1343.8)">C US</text>
<circle cx="675.3" cy="1335.5" r="10.6" fill="#7dff7a"/>
<text x="720.3" y="1343.8" transform="rotate(0.03 720.3 1343.8)">MW US</text>
<circle cx="883.7" cy="1335.5" r="10.6" fill="#e4ff13"/>
<text x="928.7" y="1343.8" transform="rotate(0.03 928.7 1343.8)">NE US</text>
<circle cx="1080.3" cy="1335.5" r="10.6" fill="#7dff7a"/>
<path d="M1080.7 1324.91A10.6 10.6 0 0 1 1080.7 1346.09Z" fill="#e4ff13"/>
<text x="1125.3" y="1343.8" transform="rotate(0.03 1125.3 1343.8)">MW US emis.- NE US conc.</text>
<circle cx="1532.4" cy="1335.5" r="10.6" fill="#ff9400"/>
<text x="1577.4" y="1343.8" transform="rotate(0.03 1577.4 1343.8)">SE US</text>
</g>
</svg>
</body>
</html>
